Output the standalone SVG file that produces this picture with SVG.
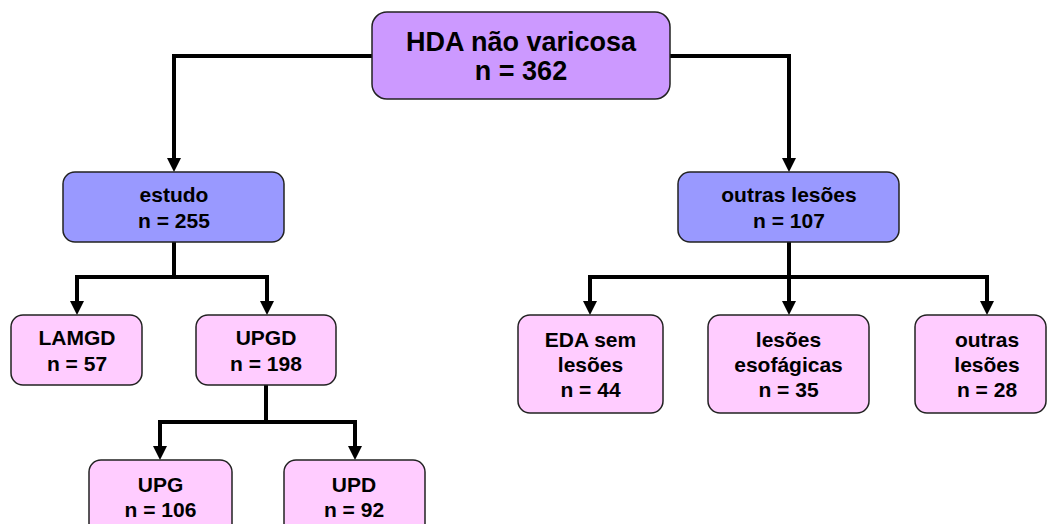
<svg xmlns="http://www.w3.org/2000/svg" width="1048" height="524" viewBox="0 0 1048 524">
<style>
.box{stroke:#222;stroke-width:1.5}
.root{fill:#CC99FF}
.mid{fill:#9999FF}
.leaf{fill:#FFCCFF}
text{font-family:"Liberation Sans",Arial,sans-serif;font-weight:bold;fill:#000;text-anchor:middle}
.t1{font-size:27px}
.t2{font-size:21px}
.conn{fill:none;stroke:#000;stroke-width:4;stroke-linejoin:miter}
</style>
<defs>
<marker id="ah" markerUnits="userSpaceOnUse" markerWidth="14" markerHeight="14" viewBox="0 0 14 14" refX="0" refY="7" orient="auto">
<path d="M0,0 L14,7 L0,14 z" fill="#000"/>
</marker>
</defs>
<rect width="1048" height="524" fill="#fff"/>
<g id="connectors">
<path class="conn" d="M372,56 H174 V158" marker-end="url(#ah)"/>
<path class="conn" d="M670,56 H789 V158" marker-end="url(#ah)"/>
<path class="conn" d="M174,242 V277 H77 V301" marker-end="url(#ah)"/>
<path class="conn" d="M174,277 H267 V301" marker-end="url(#ah)"/>
<path class="conn" d="M266,385 V422 H160 V446" marker-end="url(#ah)"/>
<path class="conn" d="M266,422 H355 V446" marker-end="url(#ah)"/>
<path class="conn" d="M789,242 V277 H590 V301" marker-end="url(#ah)"/>
<path class="conn" d="M789,277 V301" marker-end="url(#ah)"/>
<path class="conn" d="M789,277 H987 V301" marker-end="url(#ah)"/>
</g>
<g id="root">
<rect class="box root" x="372" y="12" width="298" height="87" rx="15"/>
<text class="t1" x="521" y="51">HDA não varicosa</text>
<text class="t1" x="521" y="80">n = 362</text>
</g>
<g id="estudo">
<rect class="box mid" x="63" y="172" width="221" height="70" rx="12"/>
<text class="t2" x="174" y="202">estudo</text>
<text class="t2" x="174" y="228">n = 255</text>
</g>
<g id="outras">
<rect class="box mid" x="678" y="172" width="221" height="70" rx="12"/>
<text class="t2" x="789" y="202">outras lesões</text>
<text class="t2" x="789" y="228">n = 107</text>
</g>
<g id="lamgd">
<rect class="box leaf" x="11" y="315" width="131" height="70" rx="12"/>
<text class="t2" x="77" y="345">LAMGD</text>
<text class="t2" x="77" y="371">n = 57</text>
</g>
<g id="upgd">
<rect class="box leaf" x="196" y="315" width="140" height="70" rx="12"/>
<text class="t2" x="266" y="345">UPGD</text>
<text class="t2" x="266" y="371">n = 198</text>
</g>
<g id="upg">
<rect class="box leaf" x="89" y="460" width="143" height="80" rx="12"/>
<text class="t2" x="160.5" y="492">UPG</text>
<text class="t2" x="160.5" y="517">n = 106</text>
</g>
<g id="upd">
<rect class="box leaf" x="284" y="460" width="141" height="80" rx="12"/>
<text class="t2" x="354" y="492">UPD</text>
<text class="t2" x="354" y="517">n = 92</text>
</g>
<g id="eda">
<rect class="box leaf" x="518" y="315" width="145" height="98" rx="12"/>
<text class="t2" x="590.5" y="347">EDA sem</text>
<text class="t2" x="590.5" y="372">lesões</text>
<text class="t2" x="590.5" y="397">n = 44</text>
</g>
<g id="esofagicas">
<rect class="box leaf" x="708" y="315" width="161" height="98" rx="12"/>
<text class="t2" x="788.5" y="347">lesões</text>
<text class="t2" x="788.5" y="372">esofágicas</text>
<text class="t2" x="788.5" y="397">n = 35</text>
</g>
<g id="outras-leaf">
<rect class="box leaf" x="915" y="315" width="131" height="98" rx="12"/>
<text class="t2" x="987" y="347">outras</text>
<text class="t2" x="987" y="372">lesões</text>
<text class="t2" x="987" y="397">n = 28</text>
</g>
</svg>
